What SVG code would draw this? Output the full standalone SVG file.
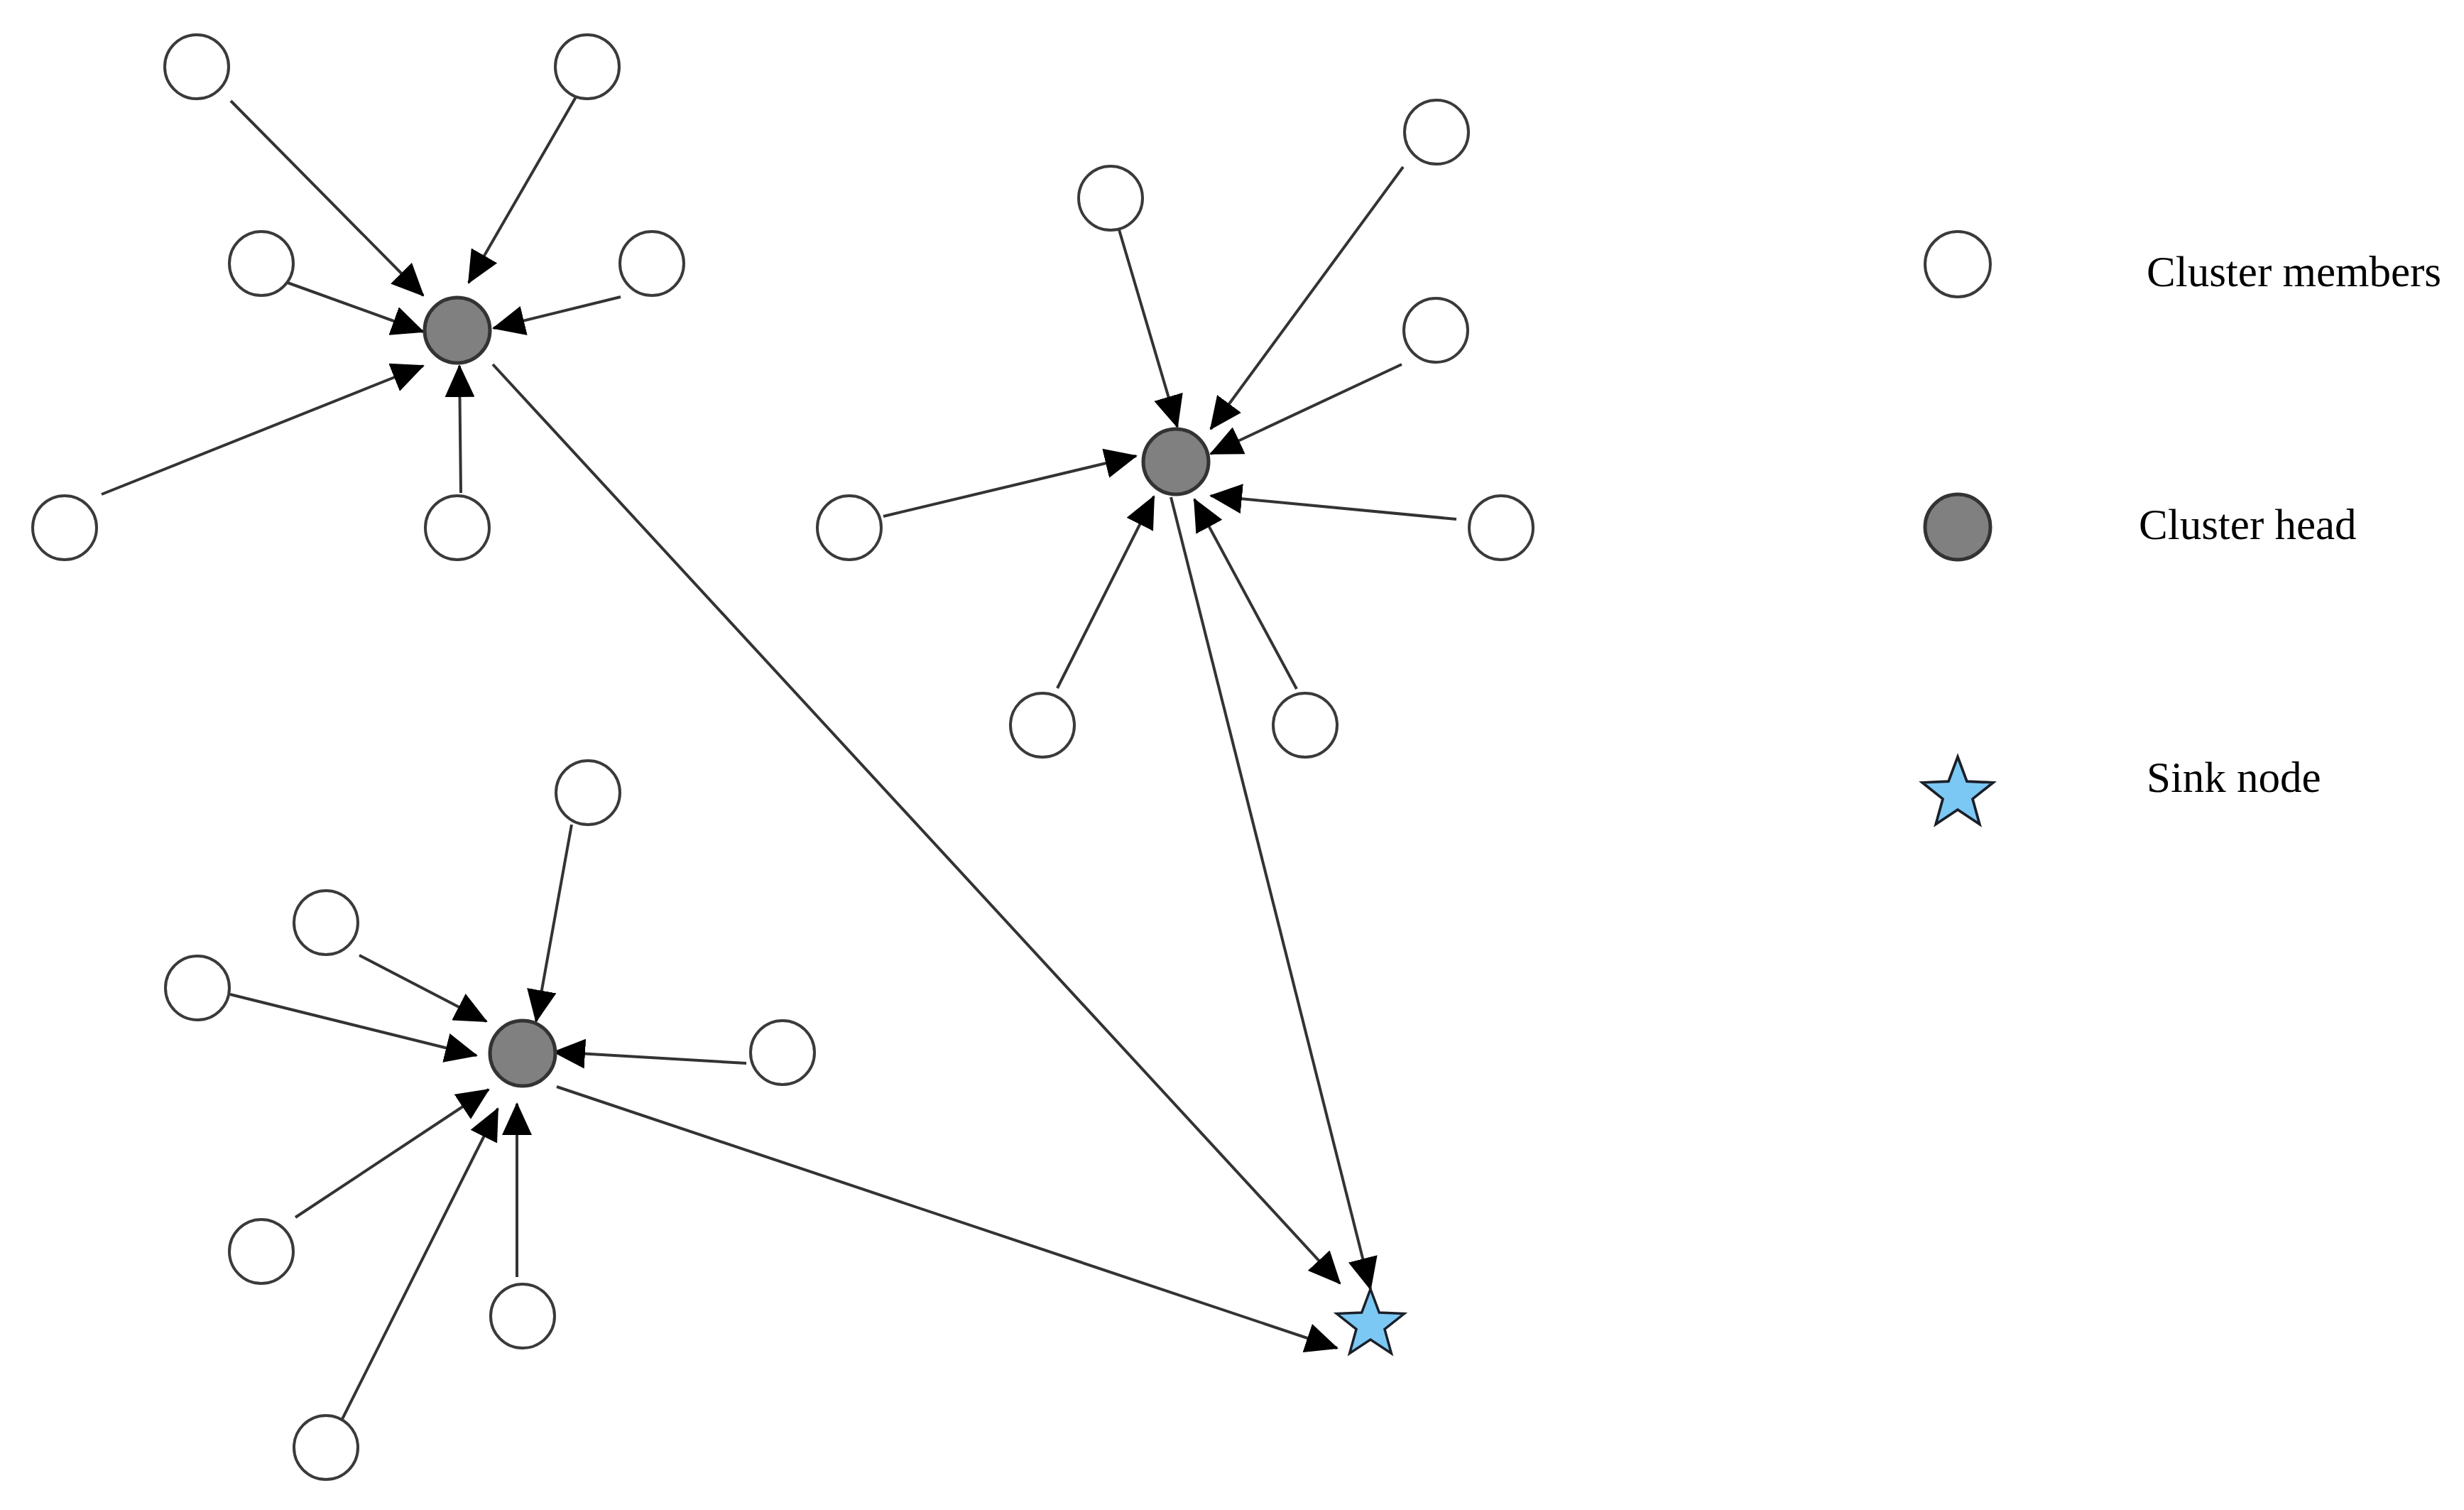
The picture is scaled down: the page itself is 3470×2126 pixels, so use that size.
<svg xmlns="http://www.w3.org/2000/svg" width="3470" height="2126" viewBox="0 0 3470 2126">
<style>
.member{fill:#ffffff;stroke:#3a3a3a;stroke-width:4}
.head{fill:#808080;stroke:#333333;stroke-width:5}
.sink{fill:#7cc8f4;stroke:#1a1f28;stroke-width:3.5;stroke-linejoin:miter}
.edge{stroke:#333333;stroke-width:4;fill:none;marker-end:url(#arrow)}
.label{font-family:"Liberation Serif","Times New Roman",serif;font-size:61px;fill:#000000}
</style>
<defs>
<marker id="arrow" markerUnits="userSpaceOnUse" markerWidth="46" markerHeight="42" viewBox="0 0 46 42" refX="44" refY="21" orient="auto">
<path d="M0,0 L46,21 L0,42 Z" fill="#000000"/>
</marker>
<path id="star" d="M0,-50 L12.34,-16.99 L47.55,-15.45 L19.97,6.49 L29.39,40.45 L0,21 L-29.39,40.45 L-19.97,6.49 L-47.55,-15.45 L-12.34,-16.99 Z"/>
</defs>
<rect x="0" y="0" width="3470" height="2126" fill="#ffffff"/>
<g id="connectors">
<line class="edge" x1="325" y1="142" x2="596" y2="416"/>
<line class="edge" x1="816" y1="128" x2="660" y2="398"/>
<line class="edge" x1="405" y1="398" x2="596" y2="467"/>
<line class="edge" x1="874" y1="418" x2="695" y2="462"/>
<line class="edge" x1="143" y1="696" x2="596" y2="515"/>
<line class="edge" x1="649" y1="694" x2="647" y2="515"/>
<line class="edge" x1="694" y1="513" x2="1887" y2="1807"/>
<line class="edge" x1="1572" y1="310" x2="1658" y2="601"/>
<line class="edge" x1="1976" y1="235" x2="1705" y2="604"/>
<line class="edge" x1="1974" y1="513" x2="1705" y2="639"/>
<line class="edge" x1="1244" y1="727" x2="1600" y2="642"/>
<line class="edge" x1="2051" y1="731" x2="1705" y2="698"/>
<line class="edge" x1="1489" y1="969" x2="1625" y2="699"/>
<line class="edge" x1="1826" y1="970" x2="1682" y2="703"/>
<line class="edge" x1="1649" y1="700" x2="1930" y2="1815"/>
<line class="edge" x1="805" y1="1161" x2="755" y2="1438"/>
<line class="edge" x1="506" y1="1345" x2="685" y2="1438"/>
<line class="edge" x1="324" y1="1400" x2="671" y2="1486"/>
<line class="edge" x1="1051" y1="1497" x2="780" y2="1481"/>
<line class="edge" x1="416" y1="1714" x2="688" y2="1534"/>
<line class="edge" x1="728" y1="1798" x2="728" y2="1554"/>
<line class="edge" x1="481" y1="2000" x2="701" y2="1561"/>
<line class="edge" x1="784" y1="1530" x2="1883" y2="1898"/>
</g>
<g id="cluster1-head"><circle class="head" cx="644" cy="465" r="46"/></g>
<g id="c1-m1"><circle class="member" cx="277" cy="94" r="45"/></g>
<g id="c1-m2"><circle class="member" cx="827" cy="94" r="45"/></g>
<g id="c1-m3"><circle class="member" cx="368" cy="371" r="45"/></g>
<g id="c1-m4"><circle class="member" cx="918" cy="371" r="45"/></g>
<g id="c1-m5"><circle class="member" cx="91" cy="743" r="45"/></g>
<g id="c1-m6"><circle class="member" cx="644" cy="743" r="45"/></g>
<g id="cluster2-head"><circle class="head" cx="1656" cy="650" r="46"/></g>
<g id="c2-m1"><circle class="member" cx="1564" cy="279" r="45"/></g>
<g id="c2-m2"><circle class="member" cx="2023" cy="186" r="45"/></g>
<g id="c2-m3"><circle class="member" cx="2022" cy="465" r="45"/></g>
<g id="c2-m4"><circle class="member" cx="1196" cy="743" r="45"/></g>
<g id="c2-m5"><circle class="member" cx="2114" cy="743" r="45"/></g>
<g id="c2-m6"><circle class="member" cx="1468" cy="1021" r="45"/></g>
<g id="c2-m7"><circle class="member" cx="1838" cy="1021" r="45"/></g>
<g id="cluster3-head"><circle class="head" cx="736" cy="1483" r="46"/></g>
<g id="c3-m1"><circle class="member" cx="828" cy="1116" r="45"/></g>
<g id="c3-m2"><circle class="member" cx="459" cy="1299" r="45"/></g>
<g id="c3-m3"><circle class="member" cx="278" cy="1391" r="45"/></g>
<g id="c3-m4"><circle class="member" cx="1102" cy="1482" r="45"/></g>
<g id="c3-m5"><circle class="member" cx="368" cy="1762" r="45"/></g>
<g id="c3-m6"><circle class="member" cx="736" cy="1853" r="45"/></g>
<g id="c3-m7"><circle class="member" cx="459" cy="2038" r="45"/></g>
<g id="sink"><use href="#star" class="sink" transform="translate(1930,1865)"/></g>
<g id="legend-member"><circle class="member" cx="2757" cy="372" r="46"/><text class="label" x="3023" y="403">Cluster members</text></g>
<g id="legend-head"><circle class="head" cx="2757" cy="742" r="46"/><text class="label" x="3012" y="759">Cluster head</text></g>
<g id="legend-sink"><use href="#star" class="sink" transform="translate(2757,1118) scale(1.05)"/><text class="label" x="3023" y="1115">Sink node</text></g>
</svg>
